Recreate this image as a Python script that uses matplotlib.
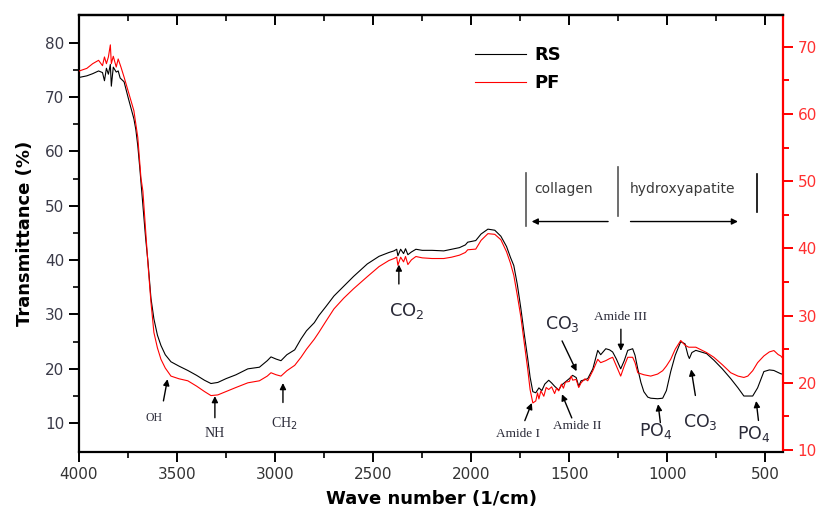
import matplotlib.pyplot as plt

# FTIR spectra: RS on left axis, PF on right (red) axis
wn_rs = [4000, 3960, 3930, 3900, 3880, 3870, 3860, 3850, 3840, 3835, 3825, 3810, 3800, 3790,
         3770, 3750, 3735, 3720, 3710, 3700, 3690, 3674, 3660, 3648, 3633, 3618, 3600, 3582,
         3560, 3531, 3490, 3445, 3400, 3360, 3327, 3292, 3250, 3200, 3139, 3080, 3040, 3021,
         2995, 2970, 2940, 2900, 2868, 2840, 2800, 2777, 2740, 2700, 2650, 2600, 2530, 2470,
         2420, 2394, 2380, 2374, 2360, 2345, 2335, 2323, 2305, 2282, 2250, 2200, 2140, 2100,
         2060, 2030, 2018, 1977, 1950, 1915, 1880, 1849, 1820, 1800, 1783, 1765, 1747, 1730,
         1712, 1700, 1686, 1671, 1655, 1640, 1625, 1605, 1590, 1575, 1554, 1540, 1520, 1500,
         1483, 1465, 1452, 1440, 1420, 1406, 1380, 1355, 1340, 1314, 1295, 1279, 1260, 1238,
         1220, 1202, 1177, 1165, 1151, 1135, 1120, 1100, 1085, 1050, 1024, 1005, 983, 960,
         932, 910, 895, 888, 875, 855, 800, 763, 720, 677, 640, 610, 565, 540, 508, 480,
         457, 422, 410]
rs = [73.6, 73.9, 74.3, 74.8, 74.5, 73.0, 75.3, 74.2, 76.0, 72.0, 75.5, 74.6, 74.8, 73.5,
      72.8, 70.0, 68.0, 66.0, 64.0, 61.0, 57.0, 50.0, 44.0, 39.6, 33.0, 29.2, 26.2, 24.3,
      22.6, 21.3, 20.5, 19.7, 18.8, 17.9, 17.3, 17.5, 18.2, 18.9, 20.0, 20.3, 21.5, 22.2,
      21.8, 21.5, 22.6, 23.5, 25.5, 27.0, 28.5, 29.8, 31.5, 33.4, 35.2, 37.0, 39.3, 40.7,
      41.4, 41.7, 42.0, 40.8, 42.0, 41.2, 42.1, 41.0, 41.5, 42.0, 41.8, 41.8, 41.7, 42.0,
      42.3, 42.8, 43.3, 43.6, 44.8, 45.7, 45.5, 44.4, 42.5, 40.5, 39.0, 35.5, 31.1, 26.5,
      21.9, 18.5, 15.8, 15.6, 16.5, 16.0, 17.2, 17.9, 17.4, 16.8, 16.1, 17.0, 17.6, 18.2,
      18.8, 18.4, 16.8, 17.8, 18.0, 18.2, 20.0, 23.4, 22.6, 23.7, 23.5, 23.1, 21.8, 20.0,
      21.5, 23.4, 23.7, 22.5, 20.0, 17.5, 15.8, 14.8, 14.6, 14.5, 14.6, 16.0, 19.5, 22.5,
      25.0, 24.6, 22.5, 21.9, 23.0, 23.4, 22.8, 21.6, 20.0, 18.2, 16.5, 15.0, 15.0, 16.5,
      19.5, 19.8, 19.7, 19.1, 19.0]

wn_pf = [4000, 3960, 3930, 3900, 3880, 3870, 3860, 3850, 3840, 3835, 3825, 3810, 3800, 3786,
         3770, 3745, 3720, 3700, 3684, 3674, 3660, 3648, 3633, 3618, 3600, 3582, 3560, 3531,
         3490, 3445, 3400, 3360, 3327, 3292, 3250, 3200, 3139, 3080, 3040, 3021, 2995, 2970,
         2940, 2900, 2868, 2840, 2800, 2777, 2740, 2700, 2650, 2600, 2530, 2470, 2420, 2394,
         2380, 2374, 2360, 2345, 2335, 2323, 2305, 2282, 2250, 2200, 2140, 2100, 2060, 2030,
         2018, 1977, 1950, 1915, 1880, 1849, 1820, 1800, 1783, 1765, 1747, 1730, 1712, 1700,
         1686, 1671, 1662, 1655, 1645, 1630, 1618, 1605, 1590, 1575, 1565, 1554, 1540, 1530,
         1520, 1500, 1490, 1483, 1465, 1452, 1440, 1420, 1406, 1380, 1355, 1340, 1314, 1295,
         1279, 1260, 1238, 1220, 1202, 1177, 1165, 1151, 1120, 1085, 1050, 1024, 1005, 983,
         960, 932, 910, 891, 855, 800, 763, 720, 677, 640, 610, 590, 565, 540, 508, 480,
         457, 435, 422, 410]
pf = [66.4, 66.8, 67.5, 68.0, 67.2, 68.5, 67.5, 68.5, 70.3, 67.5, 68.6, 67.0, 68.2, 67.0,
      65.5, 63.0, 60.5, 56.5, 50.5, 48.5, 42.5, 37.6, 32.0, 27.5, 25.2, 23.5, 22.2, 21.0,
      20.6, 20.3, 19.5, 18.7, 18.1, 18.2, 18.7, 19.3, 20.0, 20.3, 21.0, 21.5, 21.2, 21.0,
      21.8, 22.6, 23.8, 25.0, 26.5, 27.5, 29.2, 31.0, 32.6, 34.0, 35.8, 37.3, 38.2, 38.5,
      38.7, 37.5, 38.7, 38.0, 38.8, 37.6, 38.3, 38.8, 38.6, 38.5, 38.5, 38.7, 39.0, 39.4,
      39.8, 39.9, 41.2, 42.2, 42.1, 41.3, 39.5, 37.8, 36.0, 33.0, 29.8, 26.0, 22.0, 19.0,
      17.0, 17.3, 18.5, 17.6, 18.8, 18.0, 19.3, 19.0, 19.4, 18.4, 19.2, 18.8, 19.8, 19.2,
      20.1, 20.2, 21.0, 20.4, 20.5, 19.3, 20.0, 20.6, 20.3, 21.8, 23.5, 23.0, 23.3, 23.6,
      23.8, 22.5, 21.0, 22.5, 23.8, 23.8, 23.0, 21.5, 21.2, 21.0, 21.3, 21.8, 22.5, 23.5,
      25.0, 26.3, 25.6, 25.3, 25.3, 24.5, 23.8, 22.7, 21.5, 21.0, 20.8, 21.0, 21.8, 23.0,
      24.0, 24.6, 24.8, 24.2, 24.0, 23.6]

xticks = [4000, 3500, 3000, 2500, 2000, 1500, 1000, 500]
yticks_left = [10, 20, 30, 40, 50, 60, 70, 80]
yticks_right = [10, 20, 30, 40, 50, 60, 70]

fig = plt.figure(figsize=(8.2, 5.16), dpi=100)
ax = fig.add_axes([0.0963, 0.124, 0.8587, 0.847])
ax2 = ax.twinx()
ax3 = ax.twiny()   # only for the inward ticks on the top edge

l1, = ax.plot(wn_rs, rs, color='black', lw=0.8, label='RS')
l2, = ax2.plot(wn_pf, pf, color='red', lw=0.8, label='PF')

ax.set_xlim(4000, 410)
ax3.set_xlim(4000, 410)
ax.set_ylim(4.7, 85.1)
ax2.set_ylim(9.7, 74.75)

ax.set_xticks(xticks)
ax.set_xticks(range(3750, 400, -500), minor=True)
ax3.set_xticks(xticks)
ax3.set_xticks(range(3750, 400, -500), minor=True)
ax3.set_xticklabels([])
ax.set_yticks(yticks_left)
ax.set_yticks(range(15, 85, 10), minor=True)
ax2.set_yticks(yticks_right)
ax2.set_yticks(range(15, 75, 10), minor=True)

for s in ['left', 'bottom', 'top']:
    ax.spines[s].set_linewidth(1.6)
ax.spines['right'].set_visible(False)
for s in ['left', 'top', 'bottom']:
    ax2.spines[s].set_visible(False)
for s in ['left', 'right', 'bottom']:
    ax3.spines[s].set_visible(False)
ax3.spines['top'].set_linewidth(1.6)
ax2.spines['right'].set_color('red')
ax2.spines['right'].set_linewidth(1.6)
ax2.spines['right'].set_bounds(10, 74.75)

ax.tick_params(axis='x', which='major', direction='out', length=7, width=1.4,
               labelsize=11, labelcolor='#333333')
ax.tick_params(axis='x', which='minor', direction='out', length=4, width=1.2)
ax3.tick_params(axis='x', which='major', direction='in', length=7, width=1.4)
ax3.tick_params(axis='x', which='minor', direction='in', length=4, width=1.2)
ax.tick_params(axis='y', which='major', direction='out', length=7, width=1.4,
               labelsize=11, labelcolor='#3a3a48')
ax.tick_params(axis='y', which='minor', direction='out', length=4, width=1.2)
ax2.tick_params(axis='y', which='both', colors='red', labelcolor='#ff3030', labelsize=11,
                width=1.4)
ax2.tick_params(axis='y', which='major', length=7)
ax2.tick_params(axis='y', which='minor', length=4)

ax.set_xlabel('Wave number (1/cm)', fontsize=13, fontweight='bold', labelpad=6)
ax.set_ylabel('Transmittance (%)', fontsize=13, fontweight='bold', labelpad=8)

leg = ax3.legend(handles=[l1, l2], loc='upper left', bbox_to_anchor=(0.54, 0.966),
                 frameon=False, handlelength=2.8, handletextpad=0.45, labelspacing=0.55,
                 prop={'weight': 'bold', 'size': 13})

arrow = dict(arrowstyle='-|>', color='black', lw=1.0, mutation_scale=9)
serif = 'Liberation Serif'
tc = '#2a2a38'

def mark(text, xy, xytext, size, family, tx, ty):
    ax.annotate('', xy=xy, xytext=xytext, arrowprops=arrow)
    ax.text(tx, ty, text, fontsize=size, family=family, color=tc, ha='center', va='center')

mark('OH', (3546, 18.6), (3572, 13.6), 8.5, serif, 3618, 10.9)
mark('NH', (3307, 15.5), (3307, 10.5), 10, serif, 3307, 8.1)
mark('CH$_2$', (2960, 17.9), (2960, 13.3), 10, serif, 2955, 9.9)
mark('CO$_2$', (2369, 39.7), (2369, 35.1), 13, 'DejaVu Sans', 2328, 30.6)
mark('Amide I', (1686, 14.2), (1732, 10.0), 9.5, serif, 1762, 8.1)
mark('Amide II', (1543, 15.8), (1482, 10.5), 9.5, serif, 1457, 9.4)
mark('CO$_3$', (1457, 19.1), (1543, 25.6), 12.5, 'DejaVu Sans', 1535, 28.2)
mark('Amide III', (1237, 22.8), (1237, 27.8), 9.5, serif, 1237, 29.5)
mark('PO$_4$', (1049, 14.0), (1034, 9.6), 12.5, 'DejaVu Sans', 1060, 8.5)
mark('CO$_3$', (881, 20.4), (855, 14.6), 12.5, 'DejaVu Sans', 830, 10.3)
mark('PO$_4$', (549, 14.6), (534, 10.0), 12.5, 'DejaVu Sans', 560, 8.0)

# collagen / hydroxyapatite brackets
ax.plot([1722, 1722], [46.2, 56.1], color='#555555', lw=1.2)
ax.plot([1253, 1253], [48.1, 57.2], color='#555555', lw=1.2)
ax.plot([544, 544], [48.8, 55.9], color='black', lw=1.2)
ax.annotate('', xy=(1706, 47.1), xytext=(1288, 47.1), arrowprops=arrow)
ax.annotate('', xy=(626, 47.1), xytext=(1202, 47.1), arrowprops=arrow)
ax.text(1528, 53.0, 'collagen', fontsize=10, color='#3a3a3a', ha='center', va='center')
ax.text(922, 53.0, 'hydroxyapatite', fontsize=10, color='#3a3a3a', ha='center', va='center')

fig.savefig('out.png', dpi=100)
